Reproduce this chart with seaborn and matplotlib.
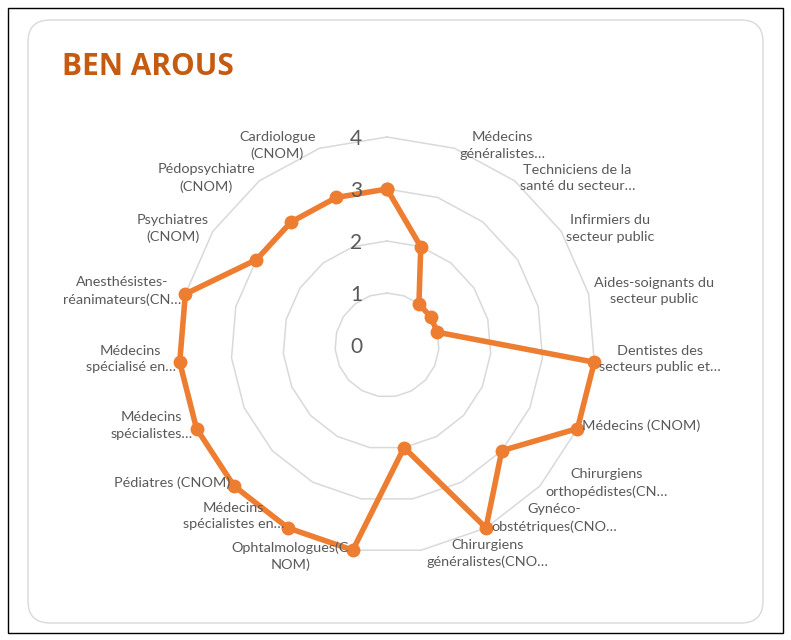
import numpy as np
import pandas as pd
import matplotlib
matplotlib.use("Agg")
import matplotlib.pyplot as plt
from matplotlib.patches import FancyBboxPatch, Rectangle
import seaborn as sns

title = "BEN AROUS"
categories = [
    "",
    "Médecins\ngénéralistes…",
    "Techniciens de la\nsanté du secteur…",
    "Infirmiers du\nsecteur public",
    "Aides-soignants du\nsecteur public",
    "Dentistes des\nsecteurs public et…",
    "Médecins (CNOM)",
    "Chirurgiens\northopédistes(CN…",
    "Gynéco-\nobstétriques(CNO…",
    "Chirurgiens\ngénéralistes(CNO…",
    "Ophtalmologues(C\nNOM)",
    "Médecins\nspécialistes en…",
    "Pédiatres (CNOM)",
    "Médecins\nspécialistes…",
    "Médecins\nspécialisé en…",
    "Anesthésistes-\nréanimateurs(CN…",
    "Psychiatres\n(CNOM)",
    "Pédopsychiatre\n(CNOM)",
    "Cardiologue\n(CNOM)",
]
values = [3, 2, 1, 1, 1, 4, 4, 3, 4, 2, 4, 4, 4, 4, 4, 4, 3, 3, 3]
r_ticks = [0, 1, 2, 3, 4]

ORANGE = "#ED7D31"
TITLE_C = "#C55A11"
GRAY_T = "#595959"
GRID_C = "#D9D9D9"

# small vertical nudges (pixels) so that crowded bottom labels do not collide
label_nudge = {8: 7, 9: -6, 10: -9, 11: 9}

sns.set_theme(style="white")
plt.rcParams["font.family"] = ["Lato", "DejaVu Sans"]

n = len(categories)
theta = np.arange(n) * 2 * np.pi / n
df = pd.DataFrame({"theta": np.append(theta, 2 * np.pi),
                   "value": values + [values[0]]})

fig = plt.figure(figsize=(7.91, 6.40), dpi=100)
fig.patch.set_facecolor("white")

# outer frame and rounded card
frame = Rectangle((0.08, 0.07), 7.75, 6.25, transform=fig.dpi_scale_trans,
                  fill=False, edgecolor="black", linewidth=1.0, zorder=-3)
card = FancyBboxPatch((0.28, 0.17), 7.35, 6.03,
                      boxstyle="round,pad=0,rounding_size=0.22",
                      transform=fig.dpi_scale_trans,
                      facecolor="none", edgecolor=GRID_C, linewidth=1.0, zorder=-2)
fig.patches.extend([frame, card])

ax = fig.add_axes([0.2263, 0.1359, 0.5259, 0.65], projection="polar")
ax.set_theta_zero_location("N")
ax.set_theta_direction(-1)
ax.patch.set_alpha(0)
ax.grid(False)
ax.spines["polar"].set_visible(False)

# polygon gridlines
closed_theta = np.append(theta, 2 * np.pi)
for r in r_ticks[1:]:
    ax.plot(closed_theta, [r] * (n + 1), color=GRID_C, linewidth=1.1, zorder=1,
            clip_on=False)

sns.lineplot(data=df, x="theta", y="value", sort=False, ax=ax, color=ORANGE,
             linewidth=4.0, marker="o", markersize=10, markeredgewidth=0,
             zorder=3, clip_on=False)

ax.set_ylim(0, r_ticks[-1])
ax.set_xticks([])
ax.set_yticks([])
ax.set_xlabel("")
ax.set_ylabel("")

# radial value labels
for r in r_ticks:
    ax.annotate(str(r), xy=(0, r), xytext=(-31, -2), textcoords="offset pixels",
                ha="center", va="center", fontsize=15, color=GRAY_T,
                annotation_clip=False)

# category labels
for i, (t, lab) in enumerate(zip(theta, categories)):
    if not lab:
        continue
    s = np.sin(t)
    if s > 1e-6:
        ha, dx = "left", 5
    else:
        ha, dx = "right", -4
    dy = 3 + label_nudge.get(i, 0)
    ax.annotate(lab, xy=(t, r_ticks[-1]), xytext=(dx, dy), textcoords="offset pixels",
                ha=ha, va="center", multialignment="center",
                fontsize=10.4, color=GRAY_T, linespacing=1.45,
                annotation_clip=False)

fig.text(62 / 791, 1 - 75 / 640, title, fontsize=21.5, fontweight="bold",
         family=["Open Sans", "DejaVu Sans"],
         color=TITLE_C, ha="left", va="baseline")

fig.savefig("out.png", dpi=100, facecolor="white")
